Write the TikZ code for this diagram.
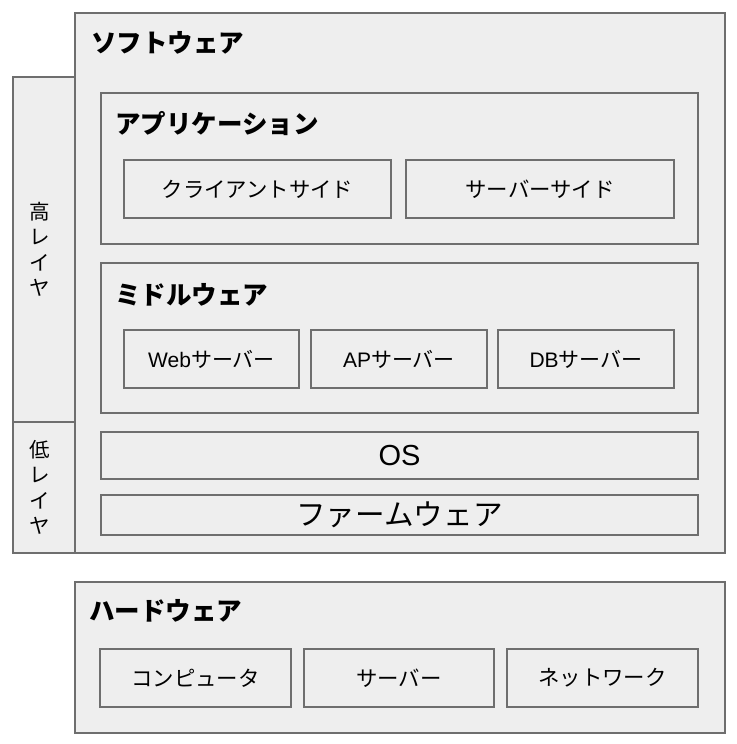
\documentclass[tikz,border=0pt]{standalone}
\usepackage{fontspec}
\setmainfont{Liberation Sans}
\newfontfamily\jp{Noto Sans CJK JP}
\definecolor{boxfill}{HTML}{EEEEEE}
\definecolor{boxline}{HTML}{6E6E6E}
\tikzset{
  boxx/.style={draw=boxline, fill=boxfill, line width=1.4pt, inner sep=0pt, outer sep=0pt, rectangle},
  ttl/.style={anchor=west, inner sep=0pt, font=\jp\bfseries\fontsize{25.5}{30}\selectfont},
  lbl/.style={font=\jp\fontsize{21.4}{25}\selectfont},
  lat/.style={font=\fontsize{21}{25}\selectfont},
  big/.style={font=\fontsize{29}{34}\selectfont},
  vtext/.style={inner sep=0pt, align=center, font=\jp\fontsize{20.5}{25.5}\selectfont}
}
\begin{document}
\begin{tikzpicture}[x=1pt,y=-1pt]
\useasboundingbox (0,0) rectangle (736,744);
% software
\node[boxx, minimum width=650pt, minimum height=540pt] (sw) at (400,283) {};
\node[boxx, minimum width=62pt, minimum height=345pt] (hi) at (44,249.5) {};
\node[boxx, minimum width=62pt, minimum height=131pt] (lo) at (44,487.5) {};
\node[vtext] (hit) at (40,249.5) {高\\レ\\イ\\ヤ};
\node[vtext] (lot) at (40,487.5) {低\\レ\\イ\\ヤ};
\node[ttl] (swt) at (91,43) {ソフトウェア};
% application
\node[boxx, minimum width=597pt, minimum height=151pt] (app) at (399.5,168.5) {};
\node[ttl] (appt) at (115,124) {アプリケーション};
\node[boxx, lbl, minimum width=267pt, minimum height=58pt] (cs) at (257.5,189) {クライアントサイド};
\node[boxx, lbl, minimum width=268pt, minimum height=58pt] (ss) at (540,189) {サーバーサイド};
% middleware
\node[boxx, minimum width=597pt, minimum height=150pt] (mid) at (399.5,338) {};
\node[ttl] (midt) at (115,295) {ミドルウェア};
\node[boxx, lat, minimum width=175pt, minimum height=58pt] (web) at (211.5,359) {Web{\jp サーバー}};
\node[boxx, lat, minimum width=176pt, minimum height=58pt] (ap) at (399,359) {AP{\jp サーバー}};
\node[boxx, lat, minimum width=176pt, minimum height=58pt] (db) at (586,359) {DB{\jp サーバー}};
% os / firmware
\node[boxx, big, minimum width=597pt, minimum height=47pt] (os) at (399.5,455.5) {OS};
\node[boxx, minimum width=597pt, minimum height=40pt, font=\jp\fontsize{29.6}{33}\selectfont] (fw) at (399.5,515) {ファームウェア};
% hardware
\node[boxx, minimum width=650pt, minimum height=151pt] (hw) at (400,657.5) {};
\node[ttl] (hwt) at (89,611) {ハードウェア};
\node[boxx, lbl, minimum width=191pt, minimum height=58pt] (pc) at (195.5,678) {コンピュータ};
\node[boxx, lbl, minimum width=190pt, minimum height=58pt] (sv) at (399,678) {サーバー};
\node[boxx, lbl, minimum width=191pt, minimum height=58pt] (nw) at (602.5,678) {ネットワーク};
\end{tikzpicture}
\end{document}
